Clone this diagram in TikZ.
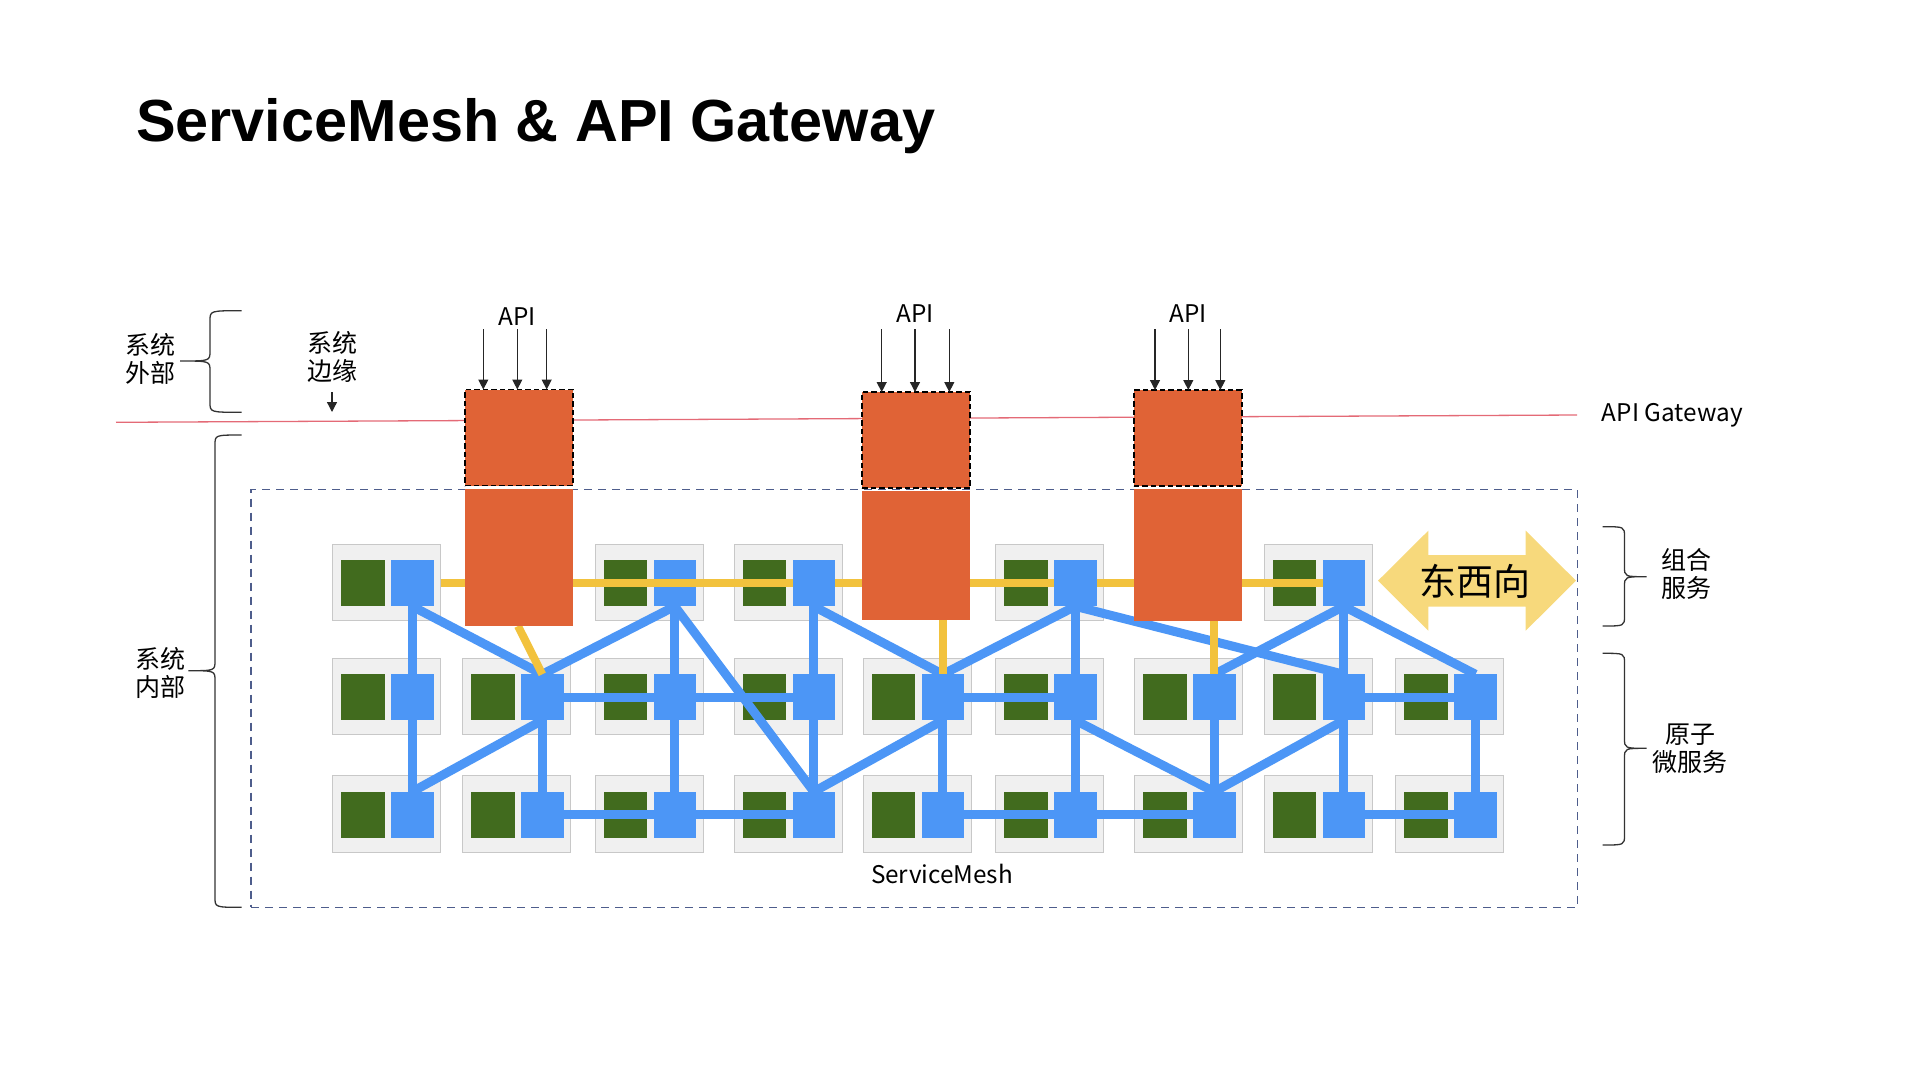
\documentclass[tikz,border=0pt]{standalone}
\usepackage{fontspec}
\setmainfont{Liberation Sans}
\newfontfamily\cjk{Noto Sans CJK SC}
\usetikzlibrary{arrows.meta,calc}
\definecolor{orng}{HTML}{E06336}
\definecolor{grn}{HTML}{416B1E}
\definecolor{blu}{HTML}{4C96F6}
\definecolor{ylw}{HTML}{F2C23D}
\definecolor{ylwa}{HTML}{F7D97C}
\definecolor{grayf}{HTML}{F0F0F0}
\definecolor{grayb}{HTML}{C8C8C8}
\definecolor{framec}{HTML}{4E5D8C}
\definecolor{redl}{HTML}{E46A76}
\definecolor{bracec}{HTML}{333333}
\tikzset{
  graybox/.style={draw=grayb, fill=grayf, line width=1pt, minimum width=108pt, minimum height=76.5pt, inner sep=0pt, outer sep=0pt},
  greensq/.style={fill=grn, minimum width=43.5pt, minimum height=46pt, inner sep=0pt, outer sep=0pt},
  bluesq/.style={fill=blu, minimum width=42.5pt, minimum height=46pt, inner sep=0pt, outer sep=0pt},
  blueln/.style={draw=blu, line width=9pt},
  yellowln/.style={draw=ylw, line width=8pt},
  orgup/.style={fill=orng, draw=black, line width=1.9pt, dash pattern=on 5.5pt off 3pt, minimum width=108pt, inner sep=0pt, outer sep=0pt},
  orglow/.style={fill=orng, minimum width=108pt, inner sep=0pt, outer sep=0pt},
  apiarr/.style={draw=black!85, line width=1.3pt, -{Triangle[length=10pt,width=10pt]}},
  bracepath/.style={draw=bracec, line width=1.3pt},
  lbl/.style={font=\cjk\fontsize{24.3}{24}\selectfont, inner sep=0pt},
  cjklbl/.style={font=\cjk\fontsize{25}{28}\selectfont, inner sep=0pt, align=center},
}
\newcommand\mkcell[2]{%
  \pgfmathsetmacro\cx{{332.5,462.5,595,734,863,995.5,1134.5,1264,1395.7}[#2-1]}%
  \pgfmathsetmacro\cy{{544.3,658.3,775.7}[#1-1]}%
  \node[graybox] (g#1#2) at (\cx+54,\cy+38.2) {};
  \node[greensq] (n#1#2) at (\cx+30.3,\cy+39) {};
  \node[bluesq] (b#1#2) at (\cx+79.8,\cy+39) {};
}
\newcommand\mkbrace[6]{%
  \draw[bracepath] (#1,#4) .. controls (#2,#4) .. (#2,#4+10) -- (#2,#5-10)
    .. controls (#2,#5) .. (#3,#5) .. controls (#2,#5) .. (#2,#5+10) -- (#2,#6-10)
    .. controls (#2,#6) .. (#1,#6);
}
\begin{document}
\begin{tikzpicture}[x=1pt,y=-1pt]
\useasboundingbox (0,0) rectangle (1920,1080);

% title
\node[anchor=base west, inner sep=0pt, font=\bfseries\fontsize{59.4}{60}\selectfont] (title) at (136,141) {ServiceMesh \& API Gateway};

% API gateway line
\coordinate (rl1) at (116,422.3);
\coordinate (rl2) at (1577,415);
\draw[redl, line width=1.3pt] (rl1) -- (rl2);
\node[lbl, anchor=base west] (gwlbl) at (1601.7,421.7) {API Gateway};

% mesh frame
\node[draw=framec, line width=1.6pt, dash pattern=on 8pt off 6pt, minimum width=1326.5pt, minimum height=417.8pt, inner sep=0pt] (mesh) at (914.25,698.4) {};
\node[lbl, anchor=base] (meshlbl) at (942,883.5) {ServiceMesh};

% braces and side labels
\mkbrace{241.7}{210}{180}{310.7}{361}{412.3}
\node[cjklbl] (outside) at (150,359) {系统\\外部};
\node[cjklbl] (edge) at (332,357) {系统\\边缘};
\coordinate (ea1) at (332,392);
\coordinate (ea2) at (332,412);
\draw[apiarr] (ea1) -- (ea2);
\mkbrace{241.7}{215}{188.3}{435}{670.7}{907.3}
\node[cjklbl] (inside) at (160,673) {系统\\内部};
\mkbrace{1602.7}{1624.5}{1646.7}{526.7}{576.7}{626}
\node[cjklbl] (compose) at (1686,573.5) {组合\\服务};
\mkbrace{1602.7}{1624.5}{1646.7}{653.3}{748.3}{845}
\node[cjklbl] (atomic) at (1690,749) {原子\\微服务};

% cells
\foreach \c in {1,3,4,6,8} {\mkcell{1}{\c}}
\foreach \r in {2,3} {\foreach \c in {1,...,9} {\mkcell{\r}{\c}}}

% blue links
\foreach \a/\b in {11/21,21/31,22/32,13/23,23/33,14/24,24/34,25/35,16/26,26/36,27/37,18/28,28/38,29/39,
                   11/22,13/22,22/31,13/34,14/25,25/34,16/25,26/37,16/28,18/27,28/37,18/29}
  \draw[blueln] (b\a.south) -- (b\b.north);
\foreach \a/\b in {22/23,23/24,25/26,28/29,32/33,33/34,35/36,36/37,38/39}
  \draw[blueln] (b\a.east) -- (b\b.west);

% orange gateways (lower parts; define anchors)
\node[orglow, minimum height=137.5pt] (o1l) at (519,557.25) {};
\node[orglow, minimum height=129pt] (o2l) at (916.4,555.5) {};
\node[orglow, minimum height=132pt] (o3l) at (1187.8,555) {};

% yellow links
\draw[yellowln] (g11.east |- b11) -- (o1l.west |- b11);
\draw[yellowln] (o1l.east |- b13) -- (b14.west);
\draw[yellowln] (b14.east) -- (o2l.west |- b14);
\draw[yellowln] (o2l.east |- b16) -- (b16.west);
\draw[yellowln] (b16.east) -- (o3l.west |- b16);
\draw[yellowln] (o3l.east |- b18) -- (b18.west);
\coordinate (y1s) at (518,626);
\draw[yellowln] (y1s) -- (b22.north);
\draw[yellowln] (o2l.south -| b25) -- (b25.north);
\draw[yellowln] (o3l.south -| b27) -- (b27.north);

% orange gateways on top of yellow
\node[orglow, minimum height=137.5pt] at (519,557.25) {};
\node[orgup, minimum height=96pt] (o1u) at (519,437.5) {};
\node[orglow, minimum height=129pt] at (916.4,555.5) {};
\node[orgup, minimum height=96pt] (o2u) at (916.4,440) {};
\node[orglow, minimum height=132pt] at (1187.8,555) {};
\node[orgup, minimum height=96pt] (o3u) at (1187.8,438) {};

% API arrows
\node[lbl, anchor=base] (api1) at (517,325) {API};
\node[lbl, anchor=base] (api2) at (915,322.3) {API};
\node[lbl, anchor=base] (api3) at (1188,322.3) {API};
\foreach \i/\x in {a/483.3,b/517.3,c/546.7} {
  \coordinate (s1\i) at (\x,329.3);
  \draw[apiarr] (s1\i) -- (s1\i |- o1u.north);
}
\foreach \i/\x in {a/881.7,b/915,c/949.3} {
  \coordinate (s2\i) at (\x,329.3);
  \draw[apiarr] (s2\i) -- (s2\i |- o2u.north);
}
\foreach \i/\x in {a/1155,b/1188.3,c/1220.3} {
  \coordinate (s3\i) at (\x,329.3);
  \draw[apiarr] (s3\i) -- (s3\i |- o3u.north);
}

% east-west arrow
\fill[ylwa] (1378,580.7) -- (1428.3,530.7) -- (1428.3,555) -- (1525.7,555) -- (1525.7,530.7)
  -- (1576,580.7) -- (1525.7,630.7) -- (1525.7,606.7) -- (1428.3,606.7) -- (1428.3,630.7) -- cycle;
\node[font=\cjk\fontsize{37}{37}\selectfont, inner sep=0pt] (ew) at (1475,581) {东西向};
\end{tikzpicture}
\end{document}
